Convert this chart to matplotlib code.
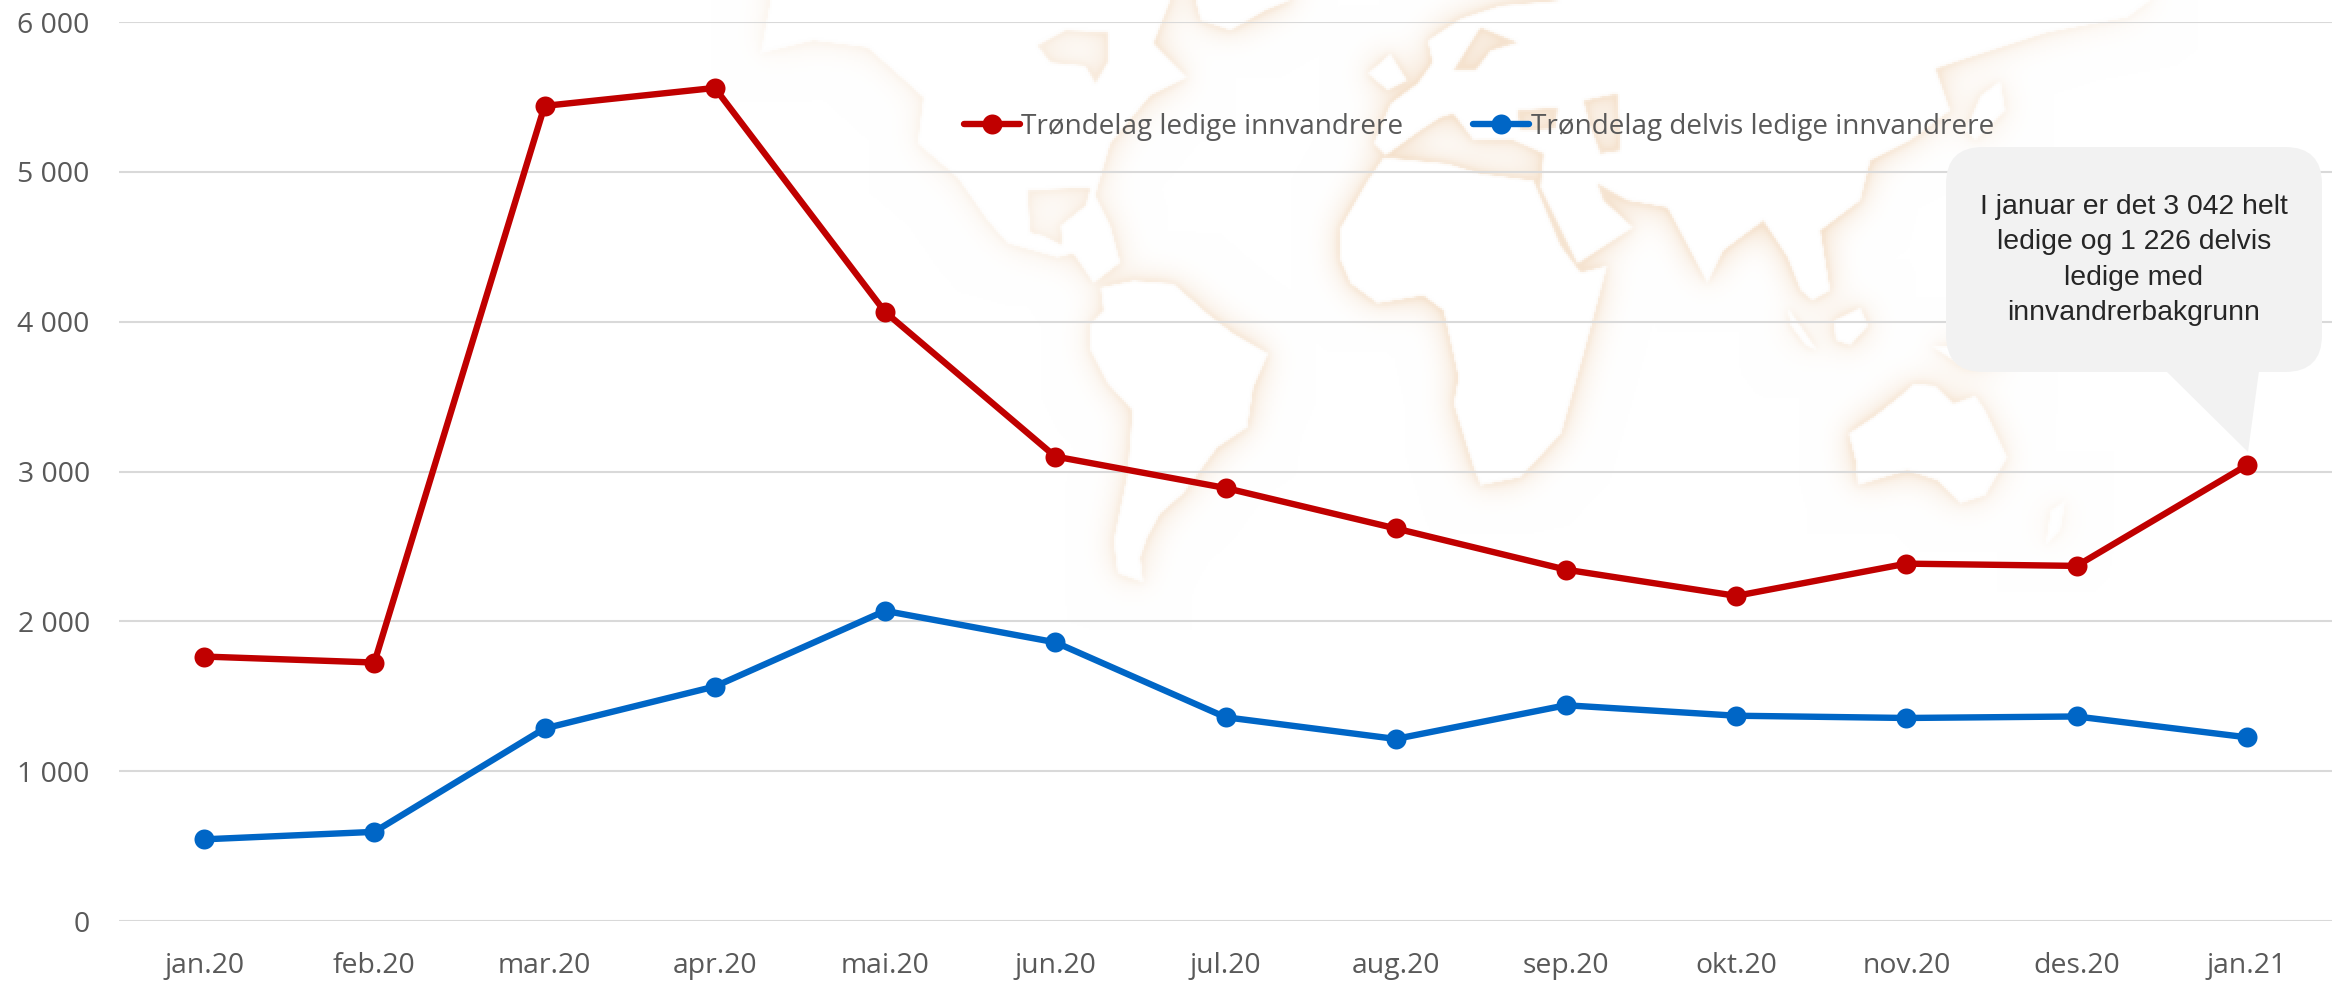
import numpy as np
import matplotlib
matplotlib.use('Agg')
from matplotlib import pyplot as plt
from matplotlib.backends.backend_agg import FigureCanvasAgg
from matplotlib.figure import Figure
from matplotlib.patches import FancyBboxPatch, Polygon
from matplotlib.ticker import FuncFormatter

W, H = 2343, 981

months = ['jan.20', 'feb.20', 'mar.20', 'apr.20', 'mai.20', 'jun.20', 'jul.20',
          'aug.20', 'sep.20', 'okt.20', 'nov.20', 'des.20', 'jan.21']
ledige = [1765, 1725, 5440, 5560, 4065, 3100, 2890, 2620, 2345, 2170, 2385, 2370, 3042]
delvis = [545, 595, 1285, 1565, 2070, 1860, 1360, 1215, 1440, 1370, 1355, 1365, 1226]
bubble_lines = ['I januar er det 3 042 helt', 'ledige og 1 226 delvis',
                'ledige med', 'innvandrerbakgrunn']

# rough coastlines of the background map, in image pixels
land = [
    # north america
    [(760, 53), (813, 40), (867, 47), (893, 70), (923, 97), (917, 143), (957, 177), (987, 220),
     (1007, 243), (1057, 257), (1073, 253), (1093, 283), (1120, 262), (1110, 225), (1095, 195),
     (1110, 143), (1150, 95), (1187, 77), (1153, 43), (1170, 0), (770, 0)],
    # south america
    [(1100, 287), (1103, 310), (1090, 323), (1090, 350), (1107, 383), (1132, 410), (1127, 473),
     (1113, 540), (1117, 573), (1143, 582), (1140, 557), (1147, 537), (1160, 513), (1183, 493),
     (1217, 447), (1247, 427), (1253, 387), (1268, 353), (1233, 333), (1207, 313), (1173, 283),
     (1133, 280)],
    # greenland
    [(1195, 0), (1200, 20), (1230, 30), (1265, 10), (1290, 0)],
    # africa
    [(1340, 227), (1367, 180), (1383, 157), (1447, 163), (1480, 173), (1533, 180), (1560, 245),
     (1580, 272), (1607, 265), (1584, 351), (1561, 433), (1520, 477), (1480, 485), (1473, 467),
     (1453, 403), (1458, 377), (1443, 310), (1423, 295), (1377, 303), (1350, 283), (1340, 260)],
    # eurasia
    [(1373, 143), (1390, 103), (1417, 83), (1432, 62), (1427, 40), (1460, 18), (1500, 5),
     (1560, 0), (2150, 0), (2127, 17), (2047, 32), (1935, 68), (1950, 110), (1910, 140),
     (1870, 160), (1860, 200), (1820, 230), (1830, 290), (1812, 300), (1800, 290), (1787, 257),
     (1763, 220), (1723, 250), (1707, 283), (1667, 207), (1627, 200), (1597, 183), (1603, 200),
     (1633, 227), (1577, 263), (1540, 187), (1543, 153), (1513, 140), (1500, 140), (1473, 140),
     (1453, 113), (1440, 117), (1420, 130), (1385, 155)],
    # britain, australia, borneo, sumatra, japan, new guinea, new zealand
    [(1367, 73), (1390, 53), (1407, 80), (1387, 90)],
    [(1848, 433), (1875, 415), (1900, 395), (1913, 383), (1935, 385), (1945, 395), (1953, 403),
     (1975, 395), (1985, 410), (2007, 457), (1985, 495), (1960, 503), (1937, 480), (1907, 470),
     (1857, 485), (1855, 460)],
    [(1833, 320), (1860, 307), (1868, 325), (1850, 345), (1835, 340)],
    [(1787, 307), (1800, 325), (1817, 350), (1805, 345), (1790, 325)],
    [(1980, 95), (2000, 80), (2005, 110), (1975, 140), (1965, 130)],
    [(1930, 345), (1975, 345), (2010, 365), (1965, 368)],
    [(2050, 510), (2065, 500), (2060, 530), (2045, 545)],
]
# enclosed seas, cut out of the land so they fill up with colour
seas = [
    [(1037, 45), (1065, 30), (1107, 32), (1107, 62), (1095, 83), (1085, 65), (1050, 62)],
    [(1027, 190), (1090, 187), (1085, 205), (1060, 225), (1062, 245), (1043, 235), (1030, 232)],
    [(1453, 70), (1480, 27), (1517, 42), (1490, 50), (1475, 70)],
    [(1517, 110), (1557, 107), (1555, 128), (1520, 130)],
    [(1583, 100), (1617, 93), (1620, 150), (1600, 153), (1590, 125)],
]


def map_layer():
    # land mask, then a soft peach glow that stays outside the land
    f = Figure(figsize=(W / 100, H / 100), dpi=100)
    canvas = FigureCanvasAgg(f)
    a = f.add_axes([0, 0, 1, 1])
    a.set_xlim(0, W)
    a.set_ylim(H, 0)
    a.axis('off')
    for poly in land:
        a.add_patch(Polygon(poly, fc='k', ec='none'))
    for poly in seas:
        a.add_patch(Polygon(poly, fc='w', ec='none', zorder=3))
    canvas.draw()
    mask = 1 - np.asarray(canvas.buffer_rgba())[:, :, 0] / 255.0
    mask = mask[::2, ::2]

    def blur(img, sigma):
        r = int(3 * sigma)
        k = np.exp(-np.arange(-r, r + 1) ** 2 / (2 * sigma ** 2))
        k /= k.sum()
        pad = np.pad(img, r, mode='edge')
        out = np.apply_along_axis(lambda v: np.convolve(v, k, mode='valid'), 0, pad)
        out = np.apply_along_axis(lambda v: np.convolve(v, k, mode='valid'), 1, out)
        return out

    glow = 0.45 * blur(mask, 2) + 0.75 * blur(mask, 8)
    alpha = np.clip(glow, 0, 0.6) * (1 - blur(mask, 0.6))
    alpha = alpha.repeat(2, axis=0).repeat(2, axis=1)[:H, :W]
    # the glow is strongest around the atlantic and indian oceans
    alpha = alpha * np.interp(np.arange(W), [750, 1000, 1150, 1350, 1600, 1850, 2100, 2343],
                              [0.35, 0.45, 0.8, 1, 0.9, 1, 0.4, 0.2])[None, :]
    peach = np.array([238, 205, 170]) / 255.0
    return 1 - alpha[:, :, None] * (1 - peach)


fig = plt.figure(figsize=(W / 100, H / 100), dpi=100, facecolor='white')
bg = fig.add_axes([0, 0, 1, 1], zorder=0)
bg.imshow(map_layer(), aspect='auto', interpolation='bilinear')
bg.axis('off')

ax = fig.add_axes([119 / W, 1 - 921 / H, (2332 - 119) / W, (921 - 22) / H], zorder=1)
ax.patch.set_alpha(0)
x = np.arange(len(months))
line_kw = dict(lw=4.6, marker='o', ms=14.4, mew=0, solid_capstyle='round', solid_joinstyle='round')
ax.plot(x, ledige, color='#C00000', label='Trøndelag ledige innvandrere', zorder=5, **line_kw)
ax.plot(x, delvis, color='#0066C6', label='Trøndelag delvis ledige innvandrere', zorder=5, **line_kw)

ax.set_xlim(-0.5, len(months) - 0.5)
ax.set_ylim(0, 6000)
ax.set_xticks(x, months)
ax.set_yticks(range(0, 7000, 1000))
ax.yaxis.set_major_formatter(FuncFormatter(lambda v, _: f'{int(v):,}'.replace(',', ' ')))
ax.grid(True, axis='y', color='#D9D9D9', lw=1.5, zorder=1)
ax.set_axisbelow(True)
for s in ax.spines.values():
    s.set_visible(False)
ax.tick_params(length=0, labelsize=20.4, labelcolor='#595959', labelfontfamily='Open Sans')
ax.tick_params(axis='y', pad=21)
ax.tick_params(axis='x', pad=22)

leg = ax.legend(loc='center', bbox_to_anchor=(1479 / W, 1 - 127 / H), bbox_transform=fig.transFigure,
                ncol=2, frameon=False, handlelength=2.0, handletextpad=0.05, columnspacing=2.5,
                prop={'family': 'Open Sans', 'size': 20.1}, labelcolor='#595959')

# speech bubble, in image pixels
to_px = matplotlib.transforms.Affine2D().scale(1, -1).translate(0, H)
ax.add_patch(FancyBboxPatch((1946 + 37, 147 + 37), 376 - 74, 225 - 74,
                            boxstyle='round,pad=37,rounding_size=37', fc='#F2F2F2', ec='none',
                            transform=to_px, zorder=3, clip_on=False))
ax.add_patch(Polygon([(2166, 371), (2259, 371), (2248, 452)], fc='#F2F2F2', ec='none',
                     transform=to_px, zorder=3, clip_on=False))
for i, txt in enumerate(bubble_lines):
    ax.text(2134, 207 + i * 35.3, txt, transform=to_px, ha='center', va='center', fontsize=20.4,
            family='Liberation Sans', color='#262626', zorder=4)

fig.savefig('out.png', dpi=100)
